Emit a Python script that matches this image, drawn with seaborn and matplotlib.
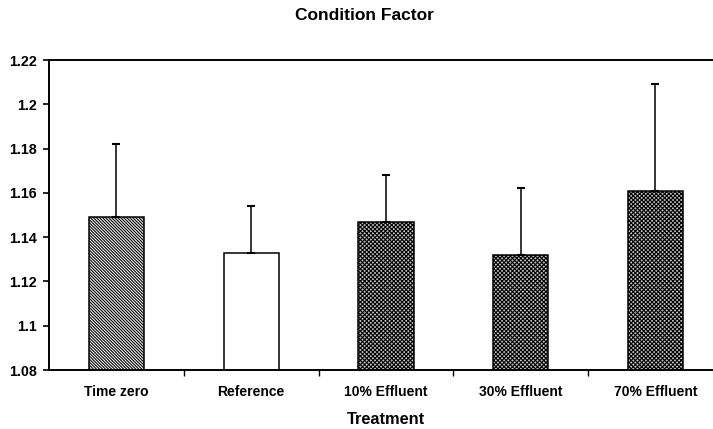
import matplotlib
matplotlib.use("Agg")
import matplotlib.pyplot as plt
import seaborn as sns
import pandas as pd

# Mean condition factor per treatment, with the upper standard deviation
treatments = ["Time zero", "Reference", "10% Effluent", "30% Effluent", "70% Effluent"]
means = [1.149, 1.133, 1.147, 1.132, 1.161]
sd = [0.033, 0.021, 0.021, 0.030, 0.048]
y_ticks = [1.08, 1.10, 1.12, 1.14, 1.16, 1.18, 1.20, 1.22]
y_tick_labels = ["1.08", "1.1", "1.12", "1.14", "1.16", "1.18", "1.2", "1.22"]

sns.set_theme(style="white")
plt.rcParams["font.family"] = ["Liberation Sans", "DejaVu Sans"]
plt.rcParams["font.weight"] = "bold"
plt.rcParams["hatch.linewidth"] = 0.8

df = pd.DataFrame({"Treatment": treatments, "Condition factor": means})

fig = plt.figure(figsize=(7.13, 4.29), dpi=100)
# the plot area runs a little past the right edge of the figure
ax = fig.add_axes([49 / 713, 1 - 370 / 429, 1 - 49 / 713, (370 - 60) / 429])

faces = ["white", "white", "#c4c4c4", "#c4c4c4", "#c4c4c4"]
hatches = ["\\" * 11, "", "x" * 8, "x" * 8, "x" * 8]

sns.barplot(data=df, x="Treatment", y="Condition factor", hue="Treatment",
            palette=dict(zip(treatments, faces)), legend=False, dodge=False,
            width=0.41, edgecolor="black", linewidth=1.1, errorbar=None, ax=ax)

for cont, h in zip(ax.containers, hatches):
    for bar in cont:
        bar.set_hatch(h)
        bar.set_edgecolor("black")

# Upper error bars only
ax.errorbar(x=range(len(treatments)), y=means, yerr=[[0] * len(sd), sd],
            fmt="none", ecolor="black", elinewidth=1.1, capsize=2.6,
            capthick=1.5, zorder=1)

ax.set_ylim(1.08, 1.22)
ax.set_xlim(-0.5, (713 - 116.5) / 134.75)
ax.set_yticks(y_ticks)
ax.set_yticklabels(y_tick_labels)

ax.set_xlabel("")
ax.set_ylabel("")

for s in ["left", "top", "bottom"]:
    ax.spines[s].set_visible(True)
    ax.spines[s].set_color("black")
    ax.spines[s].set_linewidth(1.4)
ax.spines["right"].set_visible(False)

ax.tick_params(axis="y", which="major", direction="out", length=4, width=1.2,
               color="black", labelsize=10.3, pad=5, left=True)
ax.tick_params(axis="x", which="major", length=0, labelsize=10, pad=11)
for lbl in ax.get_xticklabels() + ax.get_yticklabels():
    lbl.set_fontweight("bold")
    lbl.set_color("black")

# Category divider ticks below the axis line
ax.set_xticks([0.5, 1.5, 2.5, 3.5], minor=True)
ax.tick_params(axis="x", which="minor", direction="out", length=4, width=1.0,
               color="black", bottom=True)

fig.text(364 / 713, 1 - 15 / 429, "Condition Factor", ha="center", va="center",
         fontsize=12.5, fontweight="bold", color="black")
fig.text(386 / 713, 1 - 419 / 429, "Treatment", ha="center", va="center",
         fontsize=11.8, fontweight="bold", color="black")

fig.savefig("out.png", dpi=100)
